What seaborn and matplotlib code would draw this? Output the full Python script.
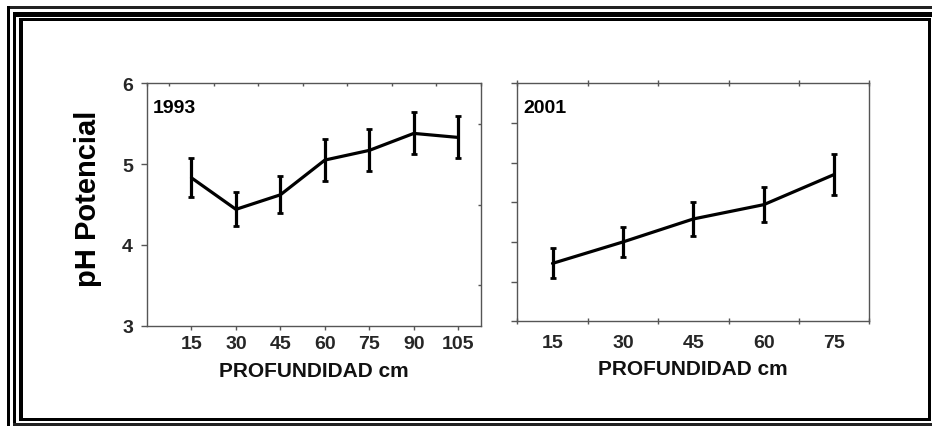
import numpy as np
import pandas as pd
import seaborn as sns
import matplotlib
matplotlib.use("Agg")
import matplotlib.pyplot as plt
from matplotlib import font_manager
from matplotlib.patches import Rectangle

# ---------------- data ----------------
depth_1993 = [15, 30, 45, 60, 75, 90, 105]
ph_1993 = [4.83, 4.44, 4.62, 5.05, 5.17, 5.38, 5.33]
err_1993 = [0.24, 0.21, 0.23, 0.26, 0.26, 0.26, 0.26]

depth_2001 = [15, 30, 45, 60, 75]
ph_2001 = [3.73, 4.00, 4.29, 4.47, 4.85]
err_2001 = [0.19, 0.19, 0.22, 0.22, 0.255]

panel_labels = ["1993", "2001"]
y_ticks = [3, 4, 5, 6]
x_label = "PROFUNDIDAD cm"
y_label = "pH Potencial"

# ---------------- style ----------------
sns.set_theme(style="white")
names = {f.name for f in font_manager.fontManager.ttflist}
narrow = "Liberation Sans Narrow" if "Liberation Sans Narrow" in names else "Liberation Sans"
plt.rcParams["font.family"] = ["Liberation Sans", "DejaVu Sans"]

W, H = 932, 427
fig = plt.figure(figsize=(W / 100, H / 100), dpi=100)
fig.patch.set_facecolor("white")


def fx(px):
    return px / W


def fy(py):
    return 1 - py / H


ax1 = fig.add_axes([fx(147), fy(326.7), fx(480.5) - fx(147), fy(84.3) - fy(326.7)])
ax2 = fig.add_axes([fx(517.3), fy(322.3), fx(869.3) - fx(517.3), fy(84.3) - fy(322.3)])

df1 = pd.DataFrame({"depth": depth_1993, "ph": ph_1993, "err": err_1993})
df2 = pd.DataFrame({"depth": depth_2001, "ph": ph_2001, "err": err_2001})

tick_size = 15 if narrow != "Liberation Sans" else 14
tick_font = dict(family=[narrow, "DejaVu Sans"], weight="bold", size=tick_size)
spine_col = "#555555"

for ax, df, lab, xlim in [(ax1, df1, panel_labels[0], (0, 112.5)),
                          (ax2, df2, panel_labels[1], (7.5, 82.5))]:
    sns.lineplot(data=df, x="depth", y="ph", ax=ax, color="black", lw=2.3,
                 estimator=None, sort=False)
    ax.errorbar(df["depth"], df["ph"], yerr=df["err"], fmt="none",
                ecolor="black", elinewidth=2.3, capsize=2, capthick=2)
    ax.set_xlim(*xlim)
    ax.set_ylim(3, 6)
    ax.set_ylabel("")
    for s in ax.spines.values():
        s.set_visible(True)
        s.set_color(spine_col)
        s.set_linewidth(1.0)
    ax.text(0.018, 0.935, lab, transform=ax.transAxes, ha="left", va="top",
            fontsize=14, fontweight="bold", color="black",
            family=["Liberation Sans", "DejaVu Sans"])
    ax.set_xlabel(x_label, fontdict=dict(family=[narrow, "DejaVu Sans"], weight="bold", size=15),
                  labelpad=6, color="#111111")

# ---- left panel ticks ----
ax1.set_xticks(depth_1993)
ax1.set_xticklabels([str(d) for d in depth_1993], fontdict=tick_font)
ax1.set_xticks(np.arange(0, 112.6, 7.5), minor=True)
ax1.set_yticks(y_ticks)
ax1.set_yticklabels([str(t) for t in y_ticks], fontdict=tick_font)
ax1.set_yticks(np.arange(3, 6.01, 0.5), minor=True)
ax1.tick_params(axis="x", which="major", bottom=True, top=False, direction="out",
                length=3, width=1, color=spine_col, pad=4)
ax1.tick_params(axis="x", which="minor", bottom=False, top=True, direction="in",
                length=2, width=1, color=spine_col)
ax1.tick_params(axis="y", which="major", left=True, right=False, direction="out",
                length=4, width=1, color=spine_col, pad=6)
ax1.tick_params(axis="y", which="minor", left=False, right=True, direction="in",
                length=2, width=1, color=spine_col)

# ---- right panel ticks ----
ax2.set_xticks(depth_2001)
ax2.set_xticklabels([str(d) for d in depth_2001], fontdict=tick_font)
ax2.set_xticks(np.arange(7.5, 82.6, 15), minor=True)
ax2.set_yticks(np.arange(3, 6.01, 0.5))
ax2.set_yticklabels([])
ax2.set_yticks(np.arange(3, 6.01, 0.5), minor=True)
ax2.tick_params(axis="x", which="major", bottom=False, top=False, length=0, pad=9)
ax2.tick_params(axis="x", which="minor", bottom=True, top=True, direction="inout",
                length=4, width=1, color=spine_col)
ax2.tick_params(axis="y", which="major", left=True, right=False, direction="out",
                length=4, width=1, color=spine_col)
ax2.tick_params(axis="y", which="minor", left=False, right=True, direction="in",
                length=2, width=1, color=spine_col)

fig.text(fx(88), fy(199), y_label, rotation=90, ha="center", va="center",
         fontsize=21, fontweight="bold", color="black",
         family=["Liberation Sans", "DejaVu Sans"])

# ---------------- decorative double frame ----------------
def band(y0, y1, x0, x1, color="black"):
    fig.add_artist(Rectangle((fx(x0), fy(y1)), fx(x1) - fx(x0), fy(y0) - fy(y1),
                             transform=fig.transFigure, facecolor=color,
                             edgecolor="none", zorder=10))


band(7, 9.5, 7, 932, "#222222")       # outer top
band(7, 427, 7, 10)                   # outer left
band(13, 18, 13, 932)                 # middle top (thick)
band(13, 427, 13, 16)                 # middle left
band(424, 426.5, 13, 932, "#222222")  # middle bottom
band(19, 21.5, 19, 931)               # inner top
band(19, 422, 19, 23)                 # inner left
band(21, 422, 928, 931)               # inner right
band(419, 422, 19, 931)               # inner bottom

fig.savefig("out.png", dpi=100, facecolor="white")
